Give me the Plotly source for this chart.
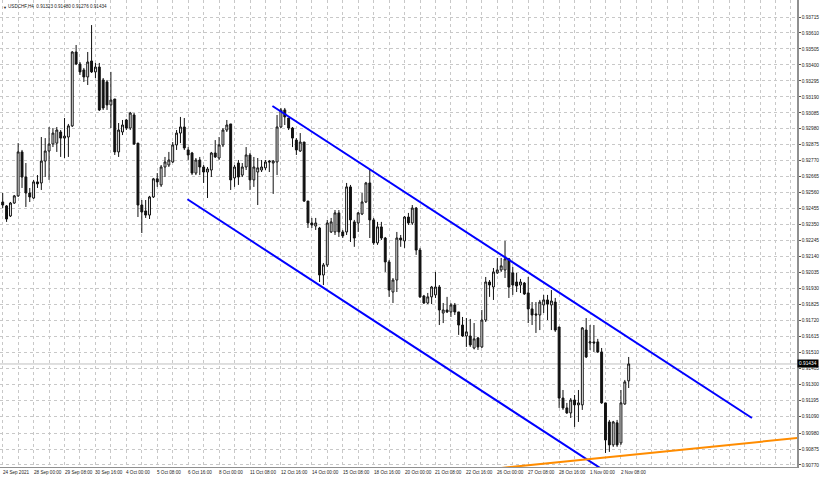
import plotly.graph_objects as go

# ---------------- data (H4 bars, weekend bars skipped; index = bar number) ----------------
symbol = "USDCHF,H4"

opens = [0.92499, 0.92473, 0.92407, 0.92492, 0.92539, 0.92828, 0.92663, 0.92558, 0.92525, 0.92631,
         0.92624, 0.92768, 0.92834, 0.92880, 0.92886, 0.92959, 0.92919, 0.92926, 0.92999, 0.93485,
         0.93406, 0.93367, 0.93321, 0.93426, 0.93354, 0.93386, 0.93301, 0.93288, 0.93137, 0.93176,
         0.92828, 0.92959, 0.93038, 0.92985, 0.93071, 0.92886, 0.92479, 0.92440, 0.92413, 0.92532,
         0.92651, 0.92611, 0.92729, 0.92742, 0.92762, 0.92874, 0.92952, 0.92992, 0.92841, 0.92821,
         0.92689, 0.92775, 0.92729, 0.92696, 0.92709, 0.92821, 0.92788, 0.92874, 0.92972, 0.93012,
         0.92657, 0.92755, 0.92676, 0.92729, 0.92808, 0.92644, 0.92696, 0.92709, 0.92723, 0.92768,
         0.92755, 0.92762, 0.92992, 0.93104, 0.93051, 0.92985, 0.92906, 0.92834, 0.92893, 0.92505,
         0.92361, 0.92341, 0.92328, 0.92019, 0.92085, 0.92302, 0.92302, 0.92427, 0.92302, 0.92302,
         0.92598, 0.92368, 0.92361, 0.92420, 0.92499, 0.92624, 0.92381, 0.92230, 0.92335, 0.92262,
         0.92105, 0.91907, 0.91986, 0.92262, 0.92243, 0.92400, 0.92361, 0.92459, 0.92183, 0.91881,
         0.91835, 0.91875, 0.91888, 0.91940, 0.91769, 0.91789, 0.91776, 0.91822, 0.91776, 0.91690,
         0.91618, 0.91618, 0.91539, 0.91605, 0.91546, 0.91723, 0.91973, 0.91940, 0.92033, 0.92052,
         0.92052, 0.92125, 0.92033, 0.91973, 0.91953, 0.91966, 0.91901, 0.91796, 0.91763, 0.91756,
         0.91822, 0.91855, 0.91822, 0.91841, 0.91677, 0.91210, 0.91145, 0.91112, 0.91197, 0.91165,
         0.91165, 0.91657, 0.91572, 0.91579, 0.91579, 0.91513, 0.91178, 0.91053, 0.90902, 0.91047,
         0.90915, 0.91171, 0.91323]

closes = [0.92479, 0.92387, 0.92492, 0.92539, 0.92828, 0.92663, 0.92558, 0.92532, 0.92631, 0.92618,
          0.92768, 0.92834, 0.92880, 0.92952, 0.92972, 0.92919, 0.92932, 0.92999, 0.93485, 0.93406,
          0.93354, 0.93321, 0.93419, 0.93354, 0.93386, 0.93104, 0.93117, 0.93137, 0.93169, 0.92828,
          0.92972, 0.93005, 0.92985, 0.93084, 0.92880, 0.92479, 0.92433, 0.92413, 0.92532, 0.92651,
          0.92631, 0.92729, 0.92762, 0.92775, 0.92874, 0.92952, 0.92992, 0.92854, 0.92808, 0.92689,
          0.92775, 0.92729, 0.92696, 0.92716, 0.92821, 0.92795, 0.92874, 0.92972, 0.93005, 0.92644,
          0.92729, 0.92663, 0.92729, 0.92808, 0.92644, 0.92729, 0.92723, 0.92729, 0.92762, 0.92762,
          0.92768, 0.92992, 0.93104, 0.93058, 0.92985, 0.92919, 0.92841, 0.92893, 0.92505, 0.92361,
          0.92348, 0.92361, 0.92019, 0.92085, 0.92361, 0.92368, 0.92427, 0.92302, 0.92276, 0.92598,
          0.92381, 0.92262, 0.92427, 0.92499, 0.92624, 0.92381, 0.92230, 0.92335, 0.92262, 0.92105,
          0.91920, 0.91986, 0.92262, 0.92249, 0.92400, 0.92361, 0.92459, 0.92183, 0.91875, 0.91835,
          0.91875, 0.91940, 0.91940, 0.91789, 0.91789, 0.91776, 0.91822, 0.91776, 0.91690, 0.91618,
          0.91645, 0.91559, 0.91599, 0.91546, 0.91723, 0.91973, 0.91953, 0.92039, 0.92052, 0.92079,
          0.92125, 0.91940, 0.91953, 0.91947, 0.91973, 0.91894, 0.91796, 0.91756, 0.91756, 0.91841,
          0.91855, 0.91828, 0.91848, 0.91657, 0.91210, 0.91145, 0.91112, 0.91197, 0.91165, 0.91178,
          0.91671, 0.91480, 0.91579, 0.91572, 0.91513, 0.91178, 0.90934, 0.90902, 0.91053, 0.90902,
          0.91178, 0.91316, 0.91434]

highs = [0.92558, 0.92479, 0.92499, 0.92545, 0.92886, 0.92841, 0.92755, 0.92591, 0.92644, 0.92676,
         0.92926, 0.92919, 0.92992, 0.92985, 0.92992, 0.92972, 0.93051, 0.93012, 0.93490, 0.93531,
         0.93419, 0.93380, 0.93485, 0.93662, 0.93413, 0.93413, 0.93314, 0.93301, 0.93354, 0.93176,
         0.93018, 0.93038, 0.93045, 0.93091, 0.93084, 0.92886, 0.92512, 0.92512, 0.92539, 0.92657,
         0.92689, 0.92742, 0.92795, 0.92828, 0.92893, 0.92972, 0.93058, 0.93051, 0.92860, 0.92828,
         0.92788, 0.92795, 0.92742, 0.92729, 0.92828, 0.92906, 0.92926, 0.92985, 0.93038, 0.93012,
         0.92742, 0.92775, 0.92755, 0.92860, 0.92821, 0.92795, 0.92788, 0.92775, 0.92775, 0.92775,
         0.92775, 0.93071, 0.93117, 0.93117, 0.93051, 0.92992, 0.92919, 0.92952, 0.92893, 0.92505,
         0.92394, 0.92394, 0.92335, 0.92098, 0.92381, 0.92394, 0.92446, 0.92446, 0.92315, 0.92624,
         0.92611, 0.92381, 0.92433, 0.92558, 0.92631, 0.92716, 0.92394, 0.92368, 0.92368, 0.92269,
         0.92118, 0.91999, 0.92302, 0.92282, 0.92407, 0.92427, 0.92479, 0.92466, 0.92197, 0.91888,
         0.91901, 0.91947, 0.92039, 0.91953, 0.91835, 0.91875, 0.91835, 0.91835, 0.91776, 0.91743,
         0.91736, 0.91730, 0.91703, 0.91612, 0.91789, 0.92006, 0.91986, 0.92065, 0.92131, 0.92131,
         0.92243, 0.92131, 0.92072, 0.92033, 0.91993, 0.91973, 0.92006, 0.91841, 0.91841, 0.91855,
         0.91888, 0.91888, 0.91920, 0.91868, 0.91677, 0.91263, 0.91178, 0.91210, 0.91230, 0.91263,
         0.91677, 0.91736, 0.91690, 0.91690, 0.91599, 0.91539, 0.91178, 0.91066, 0.91060, 0.91066,
         0.91263, 0.91329, 0.91480]

lows = [0.92459, 0.92368, 0.92400, 0.92486, 0.92532, 0.92591, 0.92466, 0.92499, 0.92519, 0.92591,
        0.92578, 0.92663, 0.92644, 0.92860, 0.92828, 0.92795, 0.92788, 0.92795, 0.92992, 0.93399,
        0.93334, 0.93288, 0.93268, 0.93347, 0.93314, 0.93097, 0.93104, 0.93104, 0.92985, 0.92808,
        0.92795, 0.92939, 0.92972, 0.92972, 0.92874, 0.92400, 0.92295, 0.92394, 0.92387, 0.92525,
        0.92598, 0.92598, 0.92663, 0.92729, 0.92755, 0.92841, 0.92886, 0.92841, 0.92775, 0.92676,
        0.92676, 0.92676, 0.92624, 0.92525, 0.92663, 0.92788, 0.92775, 0.92860, 0.92959, 0.92578,
        0.92598, 0.92611, 0.92663, 0.92709, 0.92578, 0.92598, 0.92479, 0.92696, 0.92709, 0.92696,
        0.92552, 0.92676, 0.92985, 0.93005, 0.92972, 0.92860, 0.92808, 0.92828, 0.92499, 0.92328,
        0.92328, 0.92315, 0.91973, 0.91953, 0.92072, 0.92295, 0.92282, 0.92269, 0.92262, 0.92282,
        0.92236, 0.92204, 0.92302, 0.92413, 0.92492, 0.92262, 0.92217, 0.92217, 0.92249, 0.92039,
        0.91875, 0.91835, 0.91907, 0.92204, 0.92197, 0.92348, 0.92348, 0.92151, 0.91868, 0.91828,
        0.91828, 0.91828, 0.91868, 0.91690, 0.91703, 0.91769, 0.91743, 0.91756, 0.91625, 0.91612,
        0.91546, 0.91546, 0.91530, 0.91526, 0.91539, 0.91710, 0.91875, 0.91855, 0.92026, 0.92039,
        0.91999, 0.91868, 0.91888, 0.91907, 0.91901, 0.91888, 0.91703, 0.91690, 0.91638, 0.91657,
        0.91769, 0.91723, 0.91657, 0.91645, 0.91145, 0.91132, 0.91106, 0.91079, 0.91020, 0.91053,
        0.91132, 0.91473, 0.91526, 0.91513, 0.91506, 0.91172, 0.90849, 0.90856, 0.90889, 0.90889,
        0.90902, 0.91165, 0.91276]

# time-axis labels (bar index, text)
time_label_bars = [0, 8, 16, 24, 32, 40, 48, 56, 64, 72, 80, 88, 96, 104, 112, 120, 128, 136, 144, 152, 160]
time_labels = ["24 Sep 2021", "28 Sep 00:00", "29 Sep 08:00", "30 Sep 16:00", "4 Oct 00:00",
               "5 Oct 08:00", "6 Oct 16:00", "8 Oct 00:00", "11 Oct 08:00", "12 Oct 16:00",
               "14 Oct 00:00", "15 Oct 08:00", "18 Oct 16:00", "20 Oct 00:00", "21 Oct 08:00",
               "22 Oct 16:00", "26 Oct 00:00", "27 Oct 08:00", "28 Oct 16:00", "1 Nov 00:00",
               "2 Nov 08:00"]

# price-axis labels
price_labels = ["0.93715", "0.93610", "0.93505", "0.93400", "0.93295", "0.93190", "0.93085",
                "0.92980", "0.92875", "0.92770", "0.92665", "0.92560", "0.92455", "0.92350",
                "0.92245", "0.92140", "0.92035", "0.91930", "0.91825", "0.91720", "0.91615",
                "0.91510", "0.91405", "0.91300", "0.91195", "0.91090", "0.90980", "0.90875",
                "0.90770"]

# trend lines: (bar index, price) end points
upper_channel_x = [69.8, 193.9]
upper_channel_y = [0.93130, 0.91079]
lower_channel_x = [47.8, 159.4]
lower_channel_y = [0.92517, 0.90671]
support_x = [123.5, 214.1]
support_y = [0.90736, 0.90969]

# ---------------- figure ----------------
FONT = "Liberation Sans"
idx = list(range(len(opens)))

fig = go.Figure()
fig.add_trace(go.Candlestick(
    x=idx, open=opens, high=highs, low=lows, close=closes,
    increasing=dict(fillcolor="white", line=dict(color="#111", width=1)),
    decreasing=dict(fillcolor="#111", line=dict(color="#111", width=1)),
    showlegend=False, hoverinfo="skip",
))
fig.add_trace(go.Scatter(x=upper_channel_x, y=upper_channel_y, mode="lines",
                         line=dict(color="#0000ff", width=2), showlegend=False, hoverinfo="skip"))
fig.add_trace(go.Scatter(x=lower_channel_x, y=lower_channel_y, mode="lines",
                         line=dict(color="#0000ff", width=2), showlegend=False, hoverinfo="skip"))
fig.add_trace(go.Scatter(x=support_x, y=support_y, mode="lines",
                         line=dict(color="#ff8c00", width=2), showlegend=False, hoverinfo="skip"))

last_close = closes[-1]
fig.add_shape(type="line", xref="paper", x0=0, x1=1, yref="y", y0=last_close, y1=last_close,
              line=dict(color="#c0c0c0", width=1), layer="below")

annotations = []
for b, t in zip(time_label_bars, time_labels):
    annotations.append(dict(x=b, y=0, xref="x", yref="paper", text=t, showarrow=False,
                            xanchor="left", yanchor="top", yshift=-1, xshift=-2,
                            font=dict(family=FONT, size=4.6, color="#222")))
annotations.append(dict(x=0, y=1, xref="paper", yref="paper", showarrow=False,
                        xanchor="left", yanchor="top", xshift=6, yshift=-2,
                        text=f"{symbol}  {opens[-1]:.5f} {highs[-1]:.5f} {lows[-1]:.5f} {closes[-1]:.5f}",
                        font=dict(family=FONT, size=4.6, color="#222")))
annotations.append(dict(x=0, y=1, xref="paper", yref="paper", showarrow=False,
                        xanchor="left", yanchor="top", xshift=1, yshift=-3, text="▼",
                        font=dict(family=FONT, size=4, color="#222")))
annotations.append(dict(x=1, y=last_close, xref="paper", yref="y", showarrow=False,
                        xanchor="left", yanchor="middle", text=f"{last_close:.5f}",
                        bgcolor="#000", borderpad=1,
                        font=dict(family=FONT, size=4.8, color="#fff")))

fig.update_layout(
    width=820, height=477,
    margin=dict(l=0, r=23, t=0, b=10),
    paper_bgcolor="white", plot_bgcolor="white",
    annotations=annotations,
    xaxis=dict(range=[-0.699, 205.56], tickvals=list(range(0, 206, 4)), showticklabels=False,
               showgrid=True, gridcolor="#c8c8c8", griddash="dot", gridwidth=1,
               zeroline=False, showline=True, linecolor="#909090", linewidth=1,
               ticks="", rangeslider=dict(visible=False), fixedrange=True),
    yaxis=dict(side="right", range=[0.907567, 0.938268],
               tickvals=[float(p) for p in price_labels], ticktext=price_labels,
               tickfont=dict(family=FONT, size=4.8, color="#222"),
               ticks="outside", ticklen=2, tickcolor="#555",
               showgrid=True, gridcolor="#c8c8c8", griddash="dot", gridwidth=1,
               zeroline=False, showline=True, linecolor="#909090", linewidth=1.5),
)

fig.write_html("out.html", config={"displayModeBar": False},
               post_script="document.body.style.margin='0';")
